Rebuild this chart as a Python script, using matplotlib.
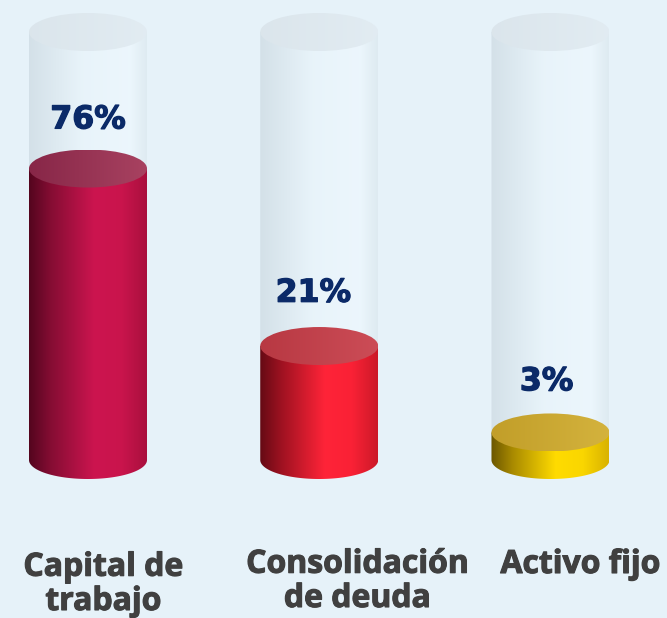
import numpy as np
import matplotlib
matplotlib.use("Agg")
import matplotlib.pyplot as plt
import matplotlib.patheffects as pe
from matplotlib.colors import LinearSegmentedColormap
from matplotlib.patches import Ellipse, Polygon

# ---- data ----
categories = ["Capital de\ntrabajo", "Consolidación\nde deuda", "Activo fijo"]
values = [76, 21, 3]
value_labels = ["76%", "21%", "3%"]

# ---- style ----
BG = "#e6f2f9"
W, H = 667, 618
R = 59          # cylinder half width (px)
E = 19          # ellipse half height (px)
TUBE_TOP = 32   # glass tube top centre (px from top)
P = 0.73        # power of the value axis
VMAX = 142

side_stops = [
    [(0, (0.33, 0.02, 0.12)), (0.18, (0.52, 0.05, 0.20)), (0.55, (0.80, 0.08, 0.31)),
     (0.78, (0.79, 0.08, 0.30)), (1, (0.66, 0.06, 0.24))],
    [(0, (0.40, 0.04, 0.08)), (0.18, (0.62, 0.07, 0.13)), (0.55, (1.0, 0.14, 0.22)),
     (0.78, (0.98, 0.13, 0.21)), (1, (0.80, 0.10, 0.16))],
    [(0, (0.42, 0.34, 0.0)), (0.18, (0.66, 0.54, 0.0)), (0.55, (1.0, 0.86, 0.0)),
     (0.78, (0.98, 0.84, 0.0)), (1, (0.85, 0.70, 0.0))],
]
top_stops = [
    [(0, (0.53, 0.15, 0.28)), (1, (0.66, 0.26, 0.38))],
    [(0, (0.72, 0.22, 0.26)), (1, (0.80, 0.30, 0.34))],
    [(0, (0.76, 0.62, 0.16)), (1, (0.83, 0.70, 0.24))],
]
glass_stops = [(0, (0.83, 0.88, 0.91)), (0.45, (0.91, 0.955, 0.98)),
               (0.85, (0.925, 0.965, 0.99)), (1, (0.87, 0.92, 0.945))]
glass_top_stops = [(0, (0.86, 0.90, 0.925)), (1, (0.885, 0.925, 0.95))]

label_dx = [0, -4.3, -2.9]      # points
label_dy = [35.0, 38.0, 36.5]   # points
cat_x = [103.5, 357.5, 580.5]    # px
cat_base = [610, 607, 573]       # px, last-line baseline

fig = plt.figure(figsize=(W / 100, H / 100), dpi=100)
fig.patch.set_facecolor(BG)

# value axes (scale) - base of cylinders at 460 px from top
BASE = 460
ax = fig.add_axes([0, (H - BASE) / H, 1, BASE / H])
ax.set_yscale("function", functions=(lambda v: np.sign(v) * np.abs(v) ** P,
                                      lambda t: np.sign(t) * np.abs(t) ** (1 / P)))
ax.set_xlim(-88 / 231.25, (W - 88) / 231.25)
ax.set_ylim(0, VMAX)
ax.axis("off")

# drawing overlay in pixel coordinates
ov = fig.add_axes([0, 0, 1, 1], zorder=-1)
ov.set_xlim(0, W)
ov.set_ylim(H, 0)
ov.axis("off")
ov.patch.set_alpha(0)

fig.canvas.draw()


def to_px(x, v):
    X, Y = ax.transData.transform((x, v))
    return X, H - Y


def grad(x0, x1, y0, y1, stops, clip, z):
    cmap = LinearSegmentedColormap.from_list("g", stops)
    arr = np.linspace(0, 1, 400)[None, :]
    im = ov.imshow(arr, cmap=cmap, extent=(x0, x1, y1, y0), aspect="auto",
                   interpolation="bilinear", zorder=z)
    im.set_clip_path(clip)


def body_poly(cx, ytop, ybot):
    th = np.linspace(np.pi, 0, 80)
    pts = [(cx - R, ytop)] + [(cx + R * np.cos(t), ybot + E * np.sin(t)) for t in th] + [(cx + R, ytop)]
    return Polygon(pts, closed=True, transform=ov.transData)


for i, (cat, v, lab) in enumerate(zip(categories, values, value_labels)):
    cx, ybase = to_px(i, 0)
    _, ylev = to_px(i, v)
    # glass body
    grad(cx - R, cx + R, TUBE_TOP, ybase + E + 1, glass_stops, body_poly(cx, TUBE_TOP, ybase), 1)
    # glass top
    el = Ellipse((cx, TUBE_TOP), 2 * R, 2 * E, transform=ov.transData)
    grad(cx - R, cx + R, TUBE_TOP - E, TUBE_TOP + E, glass_top_stops, el, 2)
    # filled side
    grad(cx - R, cx + R, ylev, ybase + E + 1, side_stops[i], body_poly(cx, ylev, ybase), 3)
    # filled top
    el2 = Ellipse((cx, ylev), 2 * R, 2 * E, transform=ov.transData)
    grad(cx - R, cx + R, ylev - E, ylev + E, top_stops[i], el2, 4)
    # value label
    ax.annotate(lab, (i, v), xytext=(label_dx[i], label_dy[i]), textcoords="offset points",
                ha="center", va="center", fontsize=22.7, fontweight="bold",
                color="#0b2a68", family="DejaVu Sans", annotation_clip=False,
                path_effects=[pe.withStroke(linewidth=0.9, foreground="#0b2a68")])

ov.set_xlim(0, W)
ov.set_ylim(H, 0)

for x, yb, cat in zip(cat_x, cat_base, categories):
    ov.text(x, yb, cat, ha="center", va="baseline", fontsize=23, fontweight="bold",
            color="#404040", family=["Open Sans", "DejaVu Sans"], linespacing=1.05, zorder=5,
            path_effects=[pe.withStroke(linewidth=0.8, foreground="#404040")])

fig.savefig("out.png", dpi=100, facecolor=BG)
